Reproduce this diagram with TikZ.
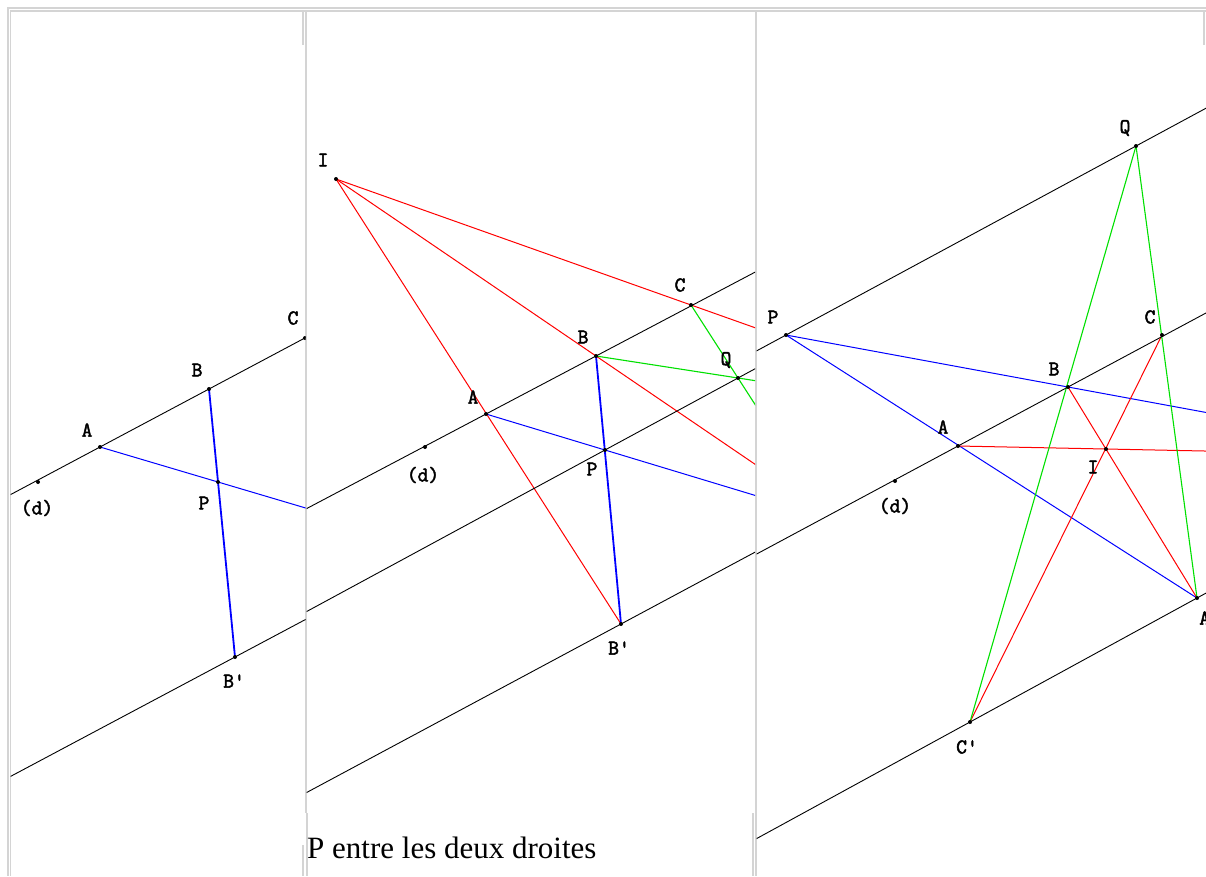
\documentclass[tikz,border=0pt]{standalone}
\usepackage{fontspec}
\setmainfont{Liberation Serif}
\newfontfamily\geofont{Latin Modern Mono}[AutoFakeBold=2.2]
\usetikzlibrary{calc}
\definecolor{CellBorder}{HTML}{D4D4D4}
\definecolor{GeoRed}{HTML}{FF0000}
\definecolor{GeoGreen}{HTML}{00E000}
\definecolor{GeoBlue}{HTML}{0000FF}

\tikzset{
  droite/.style={black,line width=0.9pt},
  rouge/.style={GeoRed,line width=1pt},
  vert/.style={GeoGreen,line width=1.1pt},
  bleu/.style={GeoBlue,line width=1pt},
  epais/.style={line width=1.8pt},
  lab/.style={font=\geofont\bfseries\fontsize{21}{21}\selectfont,inner sep=0pt},
  cadre/.style={CellBorder,line width=1.2pt}
}

\begin{document}
\begin{tikzpicture}[x=1pt,y=-1pt]
    \useasboundingbox (0,0) rectangle (1206,876);

    % cadres du tableau
    \draw[cadre] (7,8) -- (1206,8);
    \draw[cadre] (8,8) -- (8,876);
    \draw[cadre] (10,11) -- (1206,11);
    \draw[cadre] (10.5,11) -- (10.5,876);
    \draw[cadre] (303,11) -- (303,45);
    \draw[cadre] (303,845) -- (303,876);
    \draw[cadre] (306,11) -- (306,813);
    \draw[cadre] (307,813) -- (307,876);
    \draw[cadre] (753,813) -- (753,876);
    \draw[cadre] (756,11) -- (756,876);
    \draw[cadre] (1204,11) -- (1204,45);

    % figure 1
    \begin{scope}
      \clip (10.5,11) rectangle (305.5,876);
      \coordinate (A1) at (100,447);
      \coordinate (B1) at (209,389);
      \coordinate (C1) at (305,338);
      \coordinate (d1) at (38,482);
      \coordinate (P1) at (218,482);
      \coordinate (Bp1) at (235,657);
      \draw[droite] ($(A1)!-5!(B1)$) -- ($(A1)!5!(B1)$);
      \draw[droite] (Bp1) ++(-500,266) -- ++(1000,-532);
      \draw[bleu] (A1) -- ($(A1)!3!(P1)$);
      \draw[bleu,epais] (B1) -- (Bp1);
      \foreach \p in {A1,B1,C1,d1,P1,Bp1}
        \fill (\p) circle (2);
      \node[lab] (lA1) at (87,430) {A};
      \node[lab] (lB1) at (197,370) {B};
      \node[lab] (lC1) at (293,318) {C};
      \node[lab] (lP1) at (204,503) {P};
      \node[lab] (lBp1) at (234,681) {B'};
      \node[lab] (ld1) at (37,508) {(d)};
    \end{scope}

    % figure 2
    \begin{scope}
      \clip (306.5,11) rectangle (755,813);
      \coordinate (I2) at (336,179);
      \coordinate (A2) at (486,414);
      \coordinate (B2) at (596,356);
      \coordinate (C2) at (691,305);
      \coordinate (d2) at (425,447);
      \coordinate (P2) at (605,450);
      \coordinate (Q2) at (738,378);
      \coordinate (Bp2) at (621,624);
      \draw[rouge] (I2) -- ($(I2)!2!(C2)$);
      \draw[rouge] (I2) -- ($(I2)!2!(B2)$);
      \draw[rouge] (I2) -- (Bp2);
      \draw[vert] (B2) -- ($(B2)!2!(Q2)$);
      \draw[vert] (C2) -- ($(C2)!2!(Q2)$);
      \draw[bleu] (A2) -- ($(A2)!3!(P2)$);
      \draw[bleu,epais] (B2) -- (Bp2);
      \draw[droite] ($(A2)!-5!(B2)$) -- ($(A2)!5!(B2)$);
      \draw[droite] ($(P2)!-5!(Q2)$) -- ($(P2)!5!(Q2)$);
      \draw[droite] (Bp2) ++(-500,268) -- ++(1000,-536);
      \foreach \p in {I2,A2,B2,C2,d2,P2,Q2,Bp2}
        \fill (\p) circle (2);
      \node[lab] (lI2) at (323,160) {I};
      \node[lab] (lA2) at (473,397) {A};
      \node[lab] (lB2) at (583,337) {B};
      \node[lab] (lC2) at (680,285) {C};
      \node[lab] (lQ2) at (726,360) {Q};
      \node[lab] (lP2) at (592,469) {P};
      \node[lab] (lBp2) at (619,648) {B'};
      \node[lab] (ld2) at (423,475) {(d)};
    \end{scope}

    % figure 3
    \begin{scope}
      \clip (756.5,11) rectangle (1206,876);
      \coordinate (P3) at (786,335);
      \coordinate (Q3) at (1136,146);
      \coordinate (A3) at (958,446);
      \coordinate (B3) at (1068,387);
      \coordinate (C3) at (1162,335);
      \coordinate (d3) at (895,481);
      \coordinate (I3) at (1106,449);
      \coordinate (Cp3) at (970,722);
      \coordinate (Ap3) at (1197,598);
      \draw[bleu] (P3) -- ($(P3)!3!(B3)$);
      \draw[bleu] (P3) -- (Ap3);
      \draw[rouge] (A3) -- ($(A3)!3!(I3)$);
      \draw[rouge] (Cp3) -- (C3);
      \draw[rouge] (B3) -- (Ap3);
      \draw[vert] (Cp3) -- (Q3);
      \draw[vert] (Q3) -- (Ap3);
      \draw[droite] ($(P3)!-5!(Q3)$) -- ($(P3)!5!(Q3)$);
      \draw[droite] ($(A3)!-5!(B3)$) -- ($(A3)!5!(B3)$);
      \draw[droite] ($(Cp3)!-5!(Ap3)$) -- ($(Cp3)!5!(Ap3)$);
      \foreach \p in {P3,Q3,A3,B3,C3,d3,I3,Cp3,Ap3}
        \fill (\p) circle (2);
      \node[lab] (lP3) at (773,317) {P};
      \node[lab] (lQ3) at (1125,128) {Q};
      \node[lab] (lC3) at (1150,317) {C};
      \node[lab] (lB3) at (1054,369) {B};
      \node[lab] (lA3) at (943,427) {A};
      \node[lab] (lI3) at (1093,467) {I};
      \node[lab] (ld3) at (895,506) {(d)};
      \node[lab] (lCp3) at (967,747) {C'};
      \node[lab,anchor=west] (lAp3) at (1199,618) {A'};
    \end{scope}

    \node[anchor=base west,inner sep=0pt,font=\fontsize{31}{31}\selectfont] (legende) at (307,858) {P entre les deux droites};
  \end{tikzpicture}
\end{document}
